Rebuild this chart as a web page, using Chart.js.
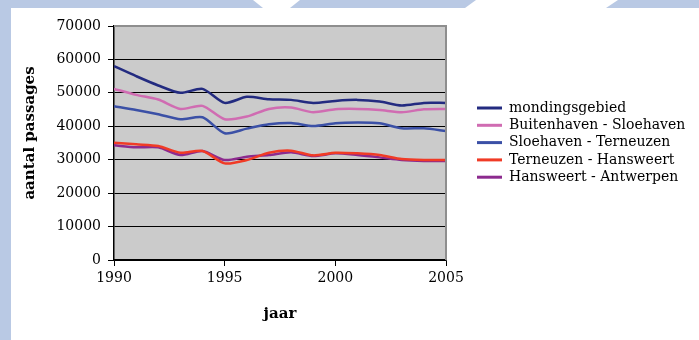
<!DOCTYPE html>
<html>
<head>
<meta charset="utf-8">
<script src="https://cdn.jsdelivr.net/npm/chart.js@4/dist/chart.umd.min.js"></script>
<style>
  html, body { margin: 0; padding: 0; background: #fff; }
  #wrap { width: 699px; height: 340px; position: relative; }
</style>
</head>
<body>
<div id="wrap"><canvas id="c" width="699" height="340"></canvas></div>
<script>
// Jaren en aantal passages per traject
const years = [1990, 1991, 1992, 1993, 1994, 1995, 1996, 1997, 1998, 1999, 2000, 2001, 2002, 2003, 2004, 2005];
const mondingsgebied      = [58000, 55000, 52200, 50000, 51200, 47000, 48800, 48100, 47900, 47000, 47600, 47900, 47400, 46200, 47000, 47000];
const buitenhavenSloe     = [51200, 49400, 48000, 45200, 46100, 42100, 42900, 45200, 45600, 44200, 45100, 45200, 44900, 44200, 45100, 45200];
const sloehavenTerneuzen  = [46000, 44900, 43600, 42100, 42700, 37900, 39300, 40600, 41000, 40100, 40900, 41100, 40900, 39400, 39400, 38600];
const terneuzenHansweert  = [35100, 34600, 34100, 32100, 32600, 28900, 29900, 32100, 32700, 31300, 32100, 31900, 31400, 30200, 29900, 29900];
const hansweertAntwerpen  = [34300, 33700, 33700, 31400, 32600, 29900, 30900, 31400, 32200, 31100, 31900, 31400, 30700, 29900, 29600, 29600];
const seriesNames = ['mondingsgebied', 'Buitenhaven - Sloehaven', 'Sloehaven - Terneuzen', 'Terneuzen - Hansweert', 'Hansweert - Antwerpen'];
const seriesColors = ['#232b80', '#d06cb2', '#3b50a6', '#f03b26', '#8c2a8e'];
const xTicks = [1990, 1995, 2000, 2005];
const yMax = 70000, yStep = 10000;
const xTitle = 'jaar';
const yTitle = 'aantal passages';

const seriesValues = [mondingsgebied, buitenhavenSloe, sloehavenTerneuzen, terneuzenHansweert, hansweertAntwerpen];
const SERIF = '"DejaVu Serif", serif';
const BLUE = '#b9c9e4';

// Achtergrond: dia-decoratie en grijs plotvlak
const backdrop = {
  id: 'backdrop',
  beforeDraw(chart) {
    const { ctx, chartArea: a, width, height } = chart;
    ctx.save();
    ctx.fillStyle = '#ffffff';
    ctx.fillRect(0, 0, width, height);
    ctx.fillStyle = BLUE;
    ctx.fillRect(0, 0, 11, height);
    ctx.beginPath();
    ctx.moveTo(0, 0); ctx.lineTo(width, 0); ctx.lineTo(width, 8); ctx.lineTo(0, 8);
    ctx.closePath();
    ctx.fill();
    ctx.fillStyle = '#ffffff';
    ctx.beginPath();
    ctx.moveTo(253, 0); ctx.lineTo(300, 0); ctx.lineTo(290, 8); ctx.lineTo(263, 8);
    ctx.closePath(); ctx.fill();
    ctx.beginPath();
    ctx.moveTo(476, 0); ctx.lineTo(618, 0); ctx.lineTo(606, 8); ctx.lineTo(465, 8);
    ctx.closePath(); ctx.fill();
    ctx.fillStyle = '#cbcbcb';
    ctx.fillRect(a.left, a.top, a.right - a.left, a.bottom - a.top);
    ctx.restore();
  },
  afterDatasetsDraw(chart) {
    const { ctx, chartArea: a } = chart;
    ctx.save();
    ctx.strokeStyle = '#8e8e8e';
    ctx.lineWidth = 2;
    ctx.beginPath();
    ctx.moveTo(a.left, a.top); ctx.lineTo(a.right, a.top); ctx.lineTo(a.right, a.bottom);
    ctx.stroke();
    ctx.restore();
  }
};

// Astitels en legenda rechts van de grafiek
const labelsPlugin = {
  id: 'labelsPlugin',
  afterDraw(chart) {
    const { ctx, chartArea: a } = chart;
    ctx.save();
    ctx.fillStyle = '#000';
    ctx.font = 'bold 15px ' + SERIF;
    ctx.textAlign = 'center';
    ctx.textBaseline = 'middle';
    ctx.fillText(xTitle, (a.left + a.right) / 2, 314);
    ctx.translate(30, 133);
    ctx.rotate(-Math.PI / 2);
    ctx.fillText(yTitle, 0, 0);
    ctx.restore();

    ctx.save();
    ctx.font = '14px ' + SERIF;
    ctx.textAlign = 'left';
    ctx.textBaseline = 'middle';
    chart.data.datasets.forEach((ds, i) => {
      const y = 108 + i * 17.3;
      ctx.strokeStyle = ds.borderColor;
      ctx.lineWidth = 3;
      ctx.beginPath();
      ctx.moveTo(477, y); ctx.lineTo(502, y);
      ctx.stroke();
      ctx.fillStyle = '#000';
      ctx.fillText(ds.label, 509, y);
    });
    ctx.restore();
  }
};

new Chart(document.getElementById('c'), {
  type: 'line',
  data: {
    datasets: seriesNames.map((name, i) => ({
      label: name,
      data: years.map((yr, j) => ({ x: yr, y: seriesValues[i][j] })),
      borderColor: seriesColors[i],
      backgroundColor: seriesColors[i],
      borderWidth: 2.5,
      pointRadius: 0,
      tension: 0.25,
      fill: false
    }))
  },
  options: {
    responsive: false,
    animation: false,
    layout: { padding: { left: 11, top: 26, right: 253, bottom: 12 } },
    plugins: { legend: { display: false }, tooltip: { enabled: false } },
    scales: {
      x: {
        type: 'linear',
        min: years[0],
        max: years[years.length - 1],
        afterFit(s) { s.height = 68; },
        afterBuildTicks(s) { s.ticks = xTicks.map(v => ({ value: v })); },
        border: { color: '#000', width: 1.5 },
        grid: { display: true, drawOnChartArea: false, color: '#000', tickLength: 6 },
        ticks: { color: '#000', font: { family: SERIF, size: 14 }, padding: 4, maxRotation: 0, callback: v => String(v) }
      },
      y: {
        min: 0,
        max: yMax,
        afterFit(s) { s.width = 103; },
        border: { color: '#000', width: 1.5 },
        grid: { color: '#000', lineWidth: 1, tickLength: 6 },
        ticks: { stepSize: yStep, color: '#000', font: { family: SERIF, size: 14 }, padding: 7, callback: v => String(v) }
      }
    }
  },
  plugins: [backdrop, labelsPlugin]
});
</script>
</body>
</html>
